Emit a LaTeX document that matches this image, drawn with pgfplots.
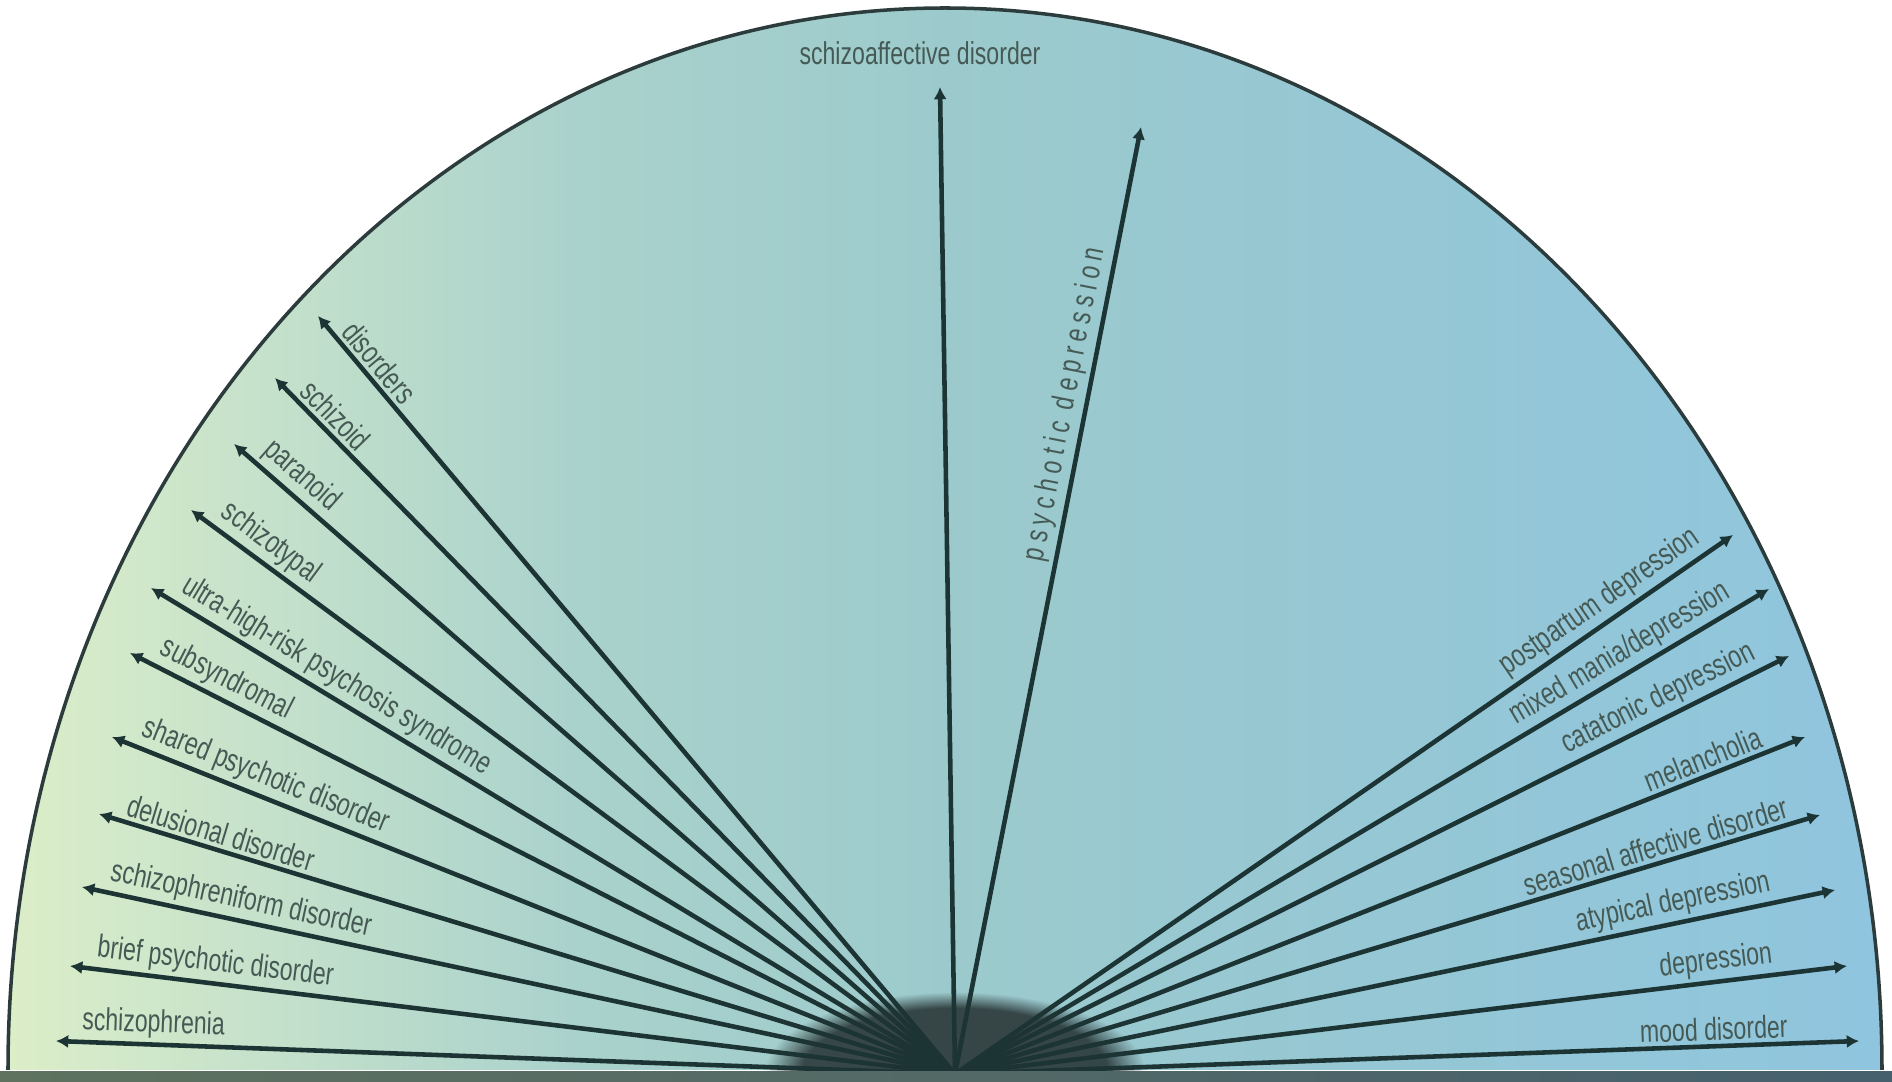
\documentclass[border=0pt]{standalone}
\usepackage{fontspec}
\setmainfont{Liberation Sans}[FakeStretch=0.73]
\usepackage{pgfplots}
\pgfplotsset{compat=1.18}
\usetikzlibrary{arrows.meta,fadings}

\definecolor{rim}{HTML}{2C3C3C}
\definecolor{rayc}{HTML}{1C3434}
\definecolor{txt}{HTML}{465A55}
\definecolor{bandL}{HTML}{5E725F}
\definecolor{bandM}{HTML}{262C2C}
\definecolor{bandR}{HTML}{46606E}

% left-to-right background colour of the half disc (25bp..75bp spans the path)
\pgfdeclarehorizontalshading{halfdisc}{100bp}{
  rgb(0bp)=(0.863,0.933,0.784);
  rgb(25bp)=(0.863,0.933,0.784);
  rgb(31bp)=(0.784,0.890,0.796);
  rgb(40bp)=(0.667,0.824,0.800);
  rgb(50bp)=(0.612,0.792,0.800);
  rgb(62.5bp)=(0.584,0.780,0.835);
  rgb(75bp)=(0.561,0.773,0.871);
  rgb(100bp)=(0.561,0.773,0.871)}

\tikzset{
  ray/.style={rayc,line width=1.3pt},
  tipS/.style={arrows={Latex[length=3.5pt,width=3.8pt]-}},
  tipE/.style={arrows={-Latex[length=3.5pt,width=3.8pt]}},
  lbl/.style={font=\fontsize{9}{10}\selectfont,text=txt,inner sep=1pt},
}

\begin{document}
\begin{tikzpicture}
\begin{axis}[
  width=18.92cm,height=10.82cm,scale only axis,
  xmin=0,xmax=1892,ymin=0,ymax=1082,
  axis lines=none,clip=false,
]
% background half ellipse
\shade[shading=halfdisc]
  (axis cs:8,12) arc[start angle=180,end angle=0,x radius=9.37cm,y radius=10.62cm] -- cycle;
\draw[rim,line width=1pt]
  (axis cs:8,12) arc[start angle=180,end angle=0,x radius=9.37cm,y radius=10.62cm];
% dark smudge where the rays meet
\begin{scope}
\clip (axis cs:0,10) rectangle (axis cs:1892,1082);
\fill[overlay,black,opacity=0.65,path fading=circle with fuzzy edge 20 percent]
  (axis cs:955,10) ellipse[x radius=1.9cm,y radius=0.8cm];
\end{scope}

% left fan
\addplot[ray,tipS] coordinates {(318,766) (955,8)} node[pos=0.022,sloped,anchor=south west,lbl] {disorders};
\addplot[ray,tipS] coordinates {(275,704) (955,8)} node[pos=0.022,sloped,anchor=south west,lbl] {schizoid};
\addplot[ray,tipS] coordinates {(234,638) (955,8)} node[pos=0.022,sloped,anchor=south west,lbl] {paranoid};
\addplot[ray,tipS] coordinates {(191,572) (955,8)} node[pos=0.022,sloped,anchor=south west,lbl] {schizotypal};
\addplot[ray,tipS] coordinates {(151,494) (955,8)} node[pos=0.022,sloped,anchor=south west,lbl] {ultra-high-risk psychosis syndrome};
\addplot[ray,tipS] coordinates {(130,429) (955,8)} node[pos=0.022,sloped,anchor=south west,lbl] {subsyndromal};
\addplot[ray,tipS] coordinates {(112,345) (955,8)} node[pos=0.022,sloped,anchor=south west,lbl] {shared psychotic disorder};
\addplot[ray,tipS] coordinates {(99,268) (955,8)} node[pos=0.022,sloped,anchor=south west,lbl] {delusional disorder};
\addplot[ray,tipS] coordinates {(82,195) (955,8)} node[pos=0.022,sloped,anchor=south west,lbl] {schizophreniform disorder};
\addplot[ray,tipS] coordinates {(70,116) (955,8)} node[pos=0.022,sloped,anchor=south west,lbl] {brief psychotic disorder};
\addplot[ray,tipS] coordinates {(56,41) (955,8)} node[pos=0.022,sloped,anchor=south west,lbl] {schizophrenia};

% middle
\addplot[ray,tipE] coordinates {(955,8) (940,995)} node[pos=1,anchor=south,xshift=-0.2cm,yshift=0.16cm,lbl] {schizoaffective disorder};
\addplot[ray,tipE] coordinates {(955,8) (1141,955)} node[pos=0.532,sloped,anchor=south west,lbl] {\addfontfeature{LetterSpace=18}psychotic depression};

% right fan
\addplot[ray,tipE] coordinates {(955,8) (1733,547)} node[pos=0.974,sloped,anchor=south east,lbl] {postpartum depression};
\addplot[ray,tipE] coordinates {(955,8) (1769,493)} node[pos=0.968,sloped,anchor=south east,lbl] {mixed mania/depression};
\addplot[ray,tipE] coordinates {(955,8) (1789,426)} node[pos=0.974,sloped,anchor=south east,lbl] {catatonic depression};
\addplot[ray,tipE] coordinates {(955,8) (1805,345)} node[pos=0.961,sloped,anchor=south east,lbl] {melancholia};
\addplot[ray,tipE] coordinates {(955,8) (1820,267)} node[pos=0.974,sloped,anchor=south east,lbl] {seasonal affective disorder};
\addplot[ray,tipE] coordinates {(955,8) (1835,192)} node[pos=0.937,sloped,anchor=south east,lbl] {atypical depression};
\addplot[ray,tipE] coordinates {(955,8) (1847,116)} node[pos=0.925,sloped,anchor=south east,lbl] {depression};
\addplot[ray,tipE] coordinates {(955,8) (1859,41)} node[pos=0.928,sloped,anchor=south east,lbl] {mood disorder};

% bottom shadow band
\shade[left color=bandL,middle color=bandM,right color=bandR]
  (axis cs:0,0) rectangle (axis cs:1892,10);
\end{axis}
\end{tikzpicture}
\end{document}
